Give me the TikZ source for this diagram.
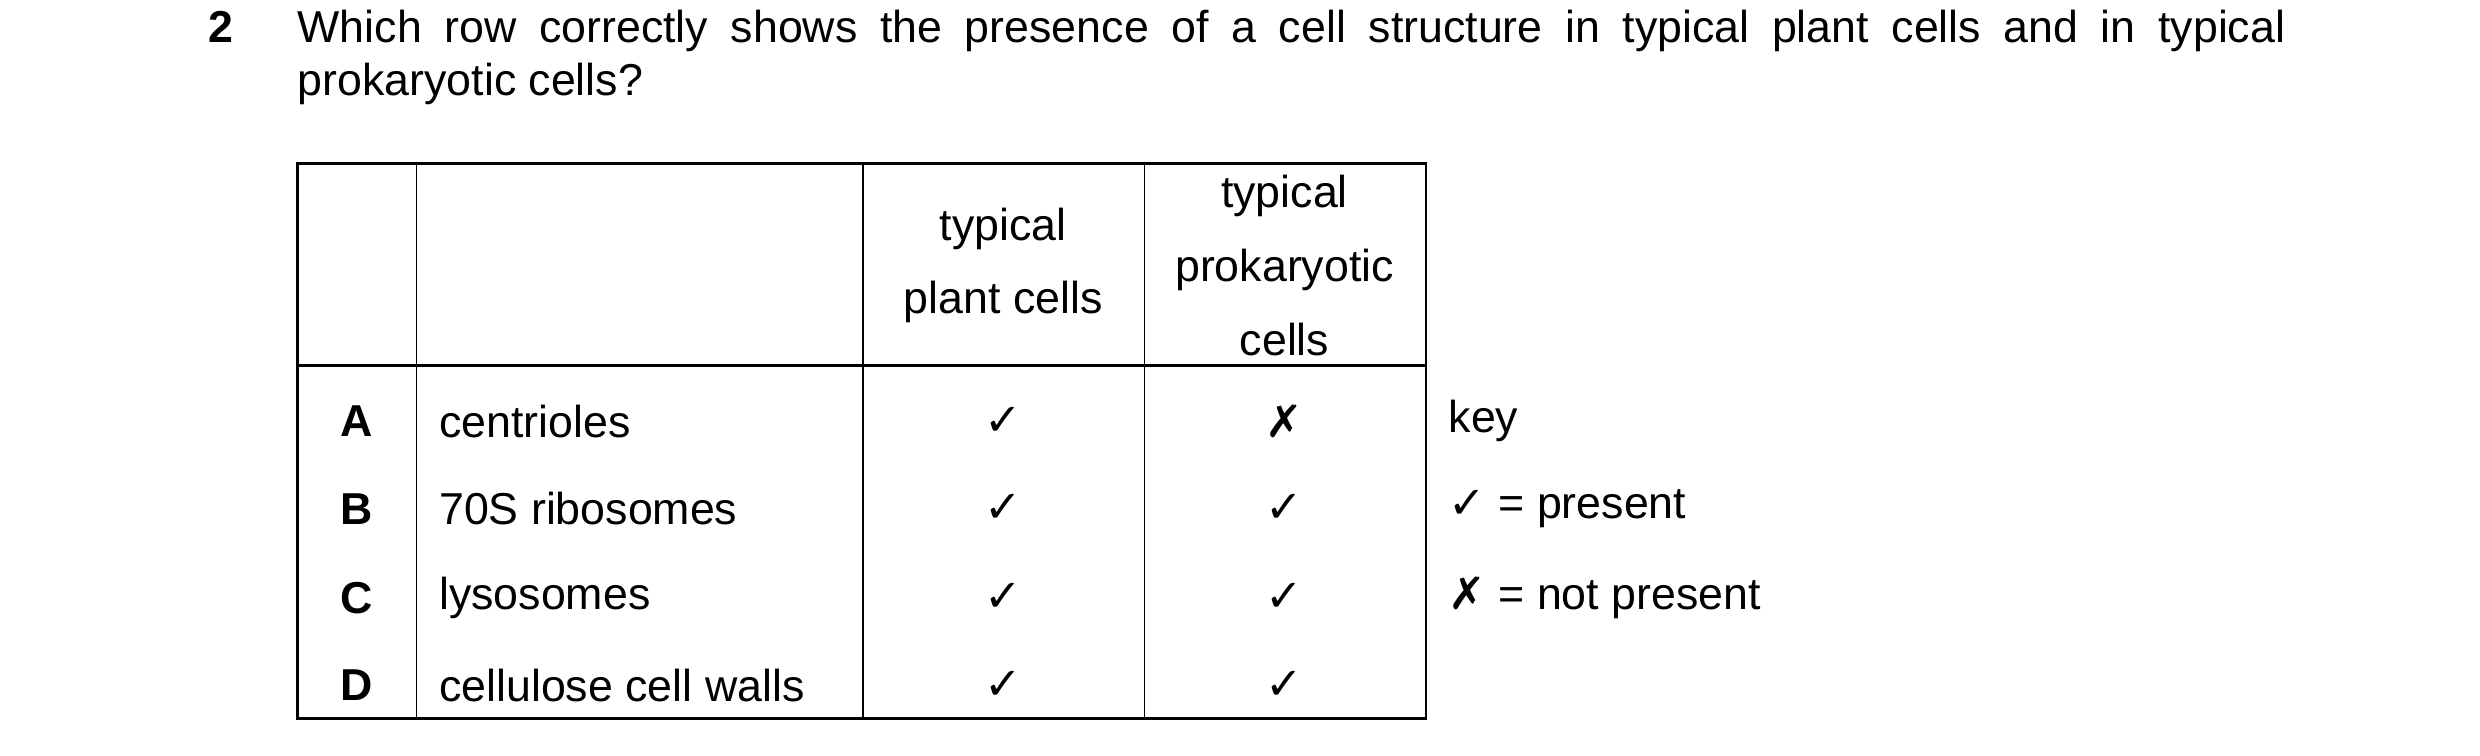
\documentclass[tikz,border=0pt]{standalone}
\usepackage{fontspec}
\setmainfont{Liberation Sans}
\newfontfamily\symfont{DejaVu Sans}
\usetikzlibrary{positioning}

\newcommand{\yesmark}{{\symfont\char"2713}}
\newcommand{\nomark}{{\symfont\char"2717}}
\newcommand{\qfont}{\fontsize{20}{33}\selectfont}
\newcommand{\qbfont}{\fontsize{20}{33}\selectfont\bfseries}

\tikzset{
    qtxt/.style={inner sep=0pt, font=\qfont},
    qcell/.style={inner sep=0pt, font=\qfont, anchor=center, align=center},
    qname/.style={inner sep=0pt, font=\qfont, anchor=west},
    qouter/.style={draw, line width=1.2pt},
    qinner/.style={draw, line width=0.7pt}
}

\begin{document}
\begin{tikzpicture}[x=0.025cm, y=-0.025cm]
\useasboundingbox (0,0) rectangle (1560,475.5);

% Question
\node[qtxt, font=\qbfont, anchor=base west] (qnum) at (131,27) {2};
\node[qtxt, anchor=base west] (q1) at (187,27) {\makebox[31.25cm][s]{Which row correctly shows the presence of a cell structure in typical plant cells and in typical}};
\node[qtxt, anchor=base west] (q2) at (187,60) {prokaryotic cells?};

% Table frame
\draw[qouter] (187,103) rectangle (897,452);
\draw[qouter] (187,230) -- (897,230);
\foreach \x in {262,543,720} \draw[qinner] (\x,103) -- (\x,452);

% Header
\node[qcell] (hplant) at (631,167) {typical\\plant cells};
\node[qcell] (hprok) at (808,167) {typical\\prokaryotic\\cells};

% Rows
\foreach \l/\s/\p/\k/\y in {A/centrioles/\yesmark/\nomark/265, B/70S ribosomes/\yesmark/\yesmark/320, C/lysosomes/\yesmark/\yesmark/376, D/cellulose cell walls/\yesmark/\yesmark/431} {
  \node[qcell, font=\qbfont] (row\l) at (224.5,\y) {\l};
  \node[qname] (name\l) at (276,\y) {\s};
  \node[qcell] (plant\l) at (631,\y) {\p};
  \node[qcell] (prok\l) at (808,\y) {\k};
}

% Key
\node[qname] (key) at (911,265) {key};
\node[qname] (keyyes) at (911,320) {\yesmark{} = present};
\node[qname] (keyno) at (911,376) {\nomark{} = not present};
\end{tikzpicture}
\end{document}
